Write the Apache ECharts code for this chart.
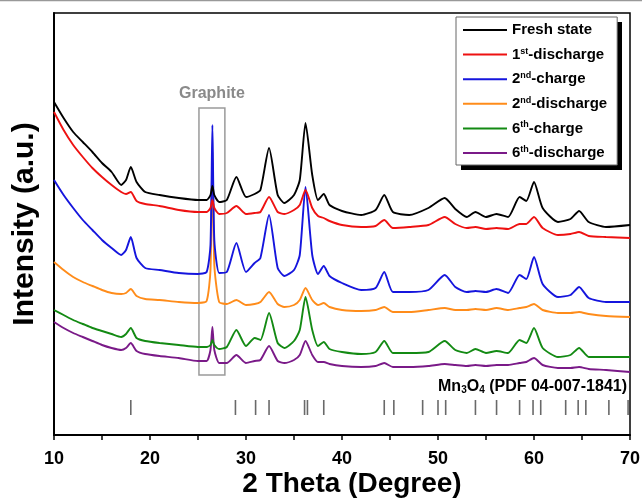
<!DOCTYPE html>
<html>
<head>
<meta charset="utf-8">
<script src="https://cdn.jsdelivr.net/npm/echarts@6/dist/echarts.min.js"></script>
<style>html,body{margin:0;padding:0;background:#fff;}#c{width:642px;height:498px;}</style>
</head>
<body>
<div id="c"></div>
<script>
// 2 Theta sample positions (degrees)
const theta = [10, 11, 12, 13, 14, 15, 16, 17, 17.5, 18, 18.6, 19.5, 21, 23, 25, 25.9, 26.3, 26.5, 26.7, 27.2,
  28, 29, 30, 30.9, 31.5, 32.4, 33.3, 34, 35, 35.6, 36.2, 36.9, 37.5, 38.1, 38.7, 40, 42, 43.5, 44.4, 45.3,
  47, 49, 50.7, 51.8, 53, 53.9, 55, 56.1, 57.3, 58.5, 59.2, 60, 60.9, 62.5, 63.8, 64.7, 65.7, 67.5, 70];

// Intensities (a.u., stacked offsets as in the figure)
const freshState = [333, 317, 303, 293, 283, 272, 263, 250, 255, 268, 253, 243, 240, 237, 235, 235, 240, 249, 240, 233,
  235, 258, 238, 241, 245, 287, 240, 232, 240, 255, 312, 260, 235, 241, 230, 224, 220, 225, 240, 223,
  220, 227, 237, 226, 218, 223, 218, 221, 218, 238, 234, 253, 227, 213, 216, 224, 213, 208, 210];
const discharge1 = [323, 305, 290, 278, 267, 258, 250, 243, 241, 243, 234, 231, 229, 225, 223, 223, 227, 235, 227, 221,
  222, 229, 221, 222, 223, 238, 223, 221, 225, 230, 245, 227, 219, 217, 214, 210, 208, 209, 215, 207,
  208, 210, 218, 211, 207, 208, 206, 207, 206, 211, 211, 218, 207, 200, 201, 203, 199, 198, 197];
const charge2 = [255, 240, 227, 215, 205, 195, 187, 180, 185, 198, 177, 167, 165, 162, 161, 163, 190, 310, 195, 162,
  163, 192, 163, 172, 177, 220, 167, 159, 165, 180, 248, 180, 161, 169, 159, 152, 145, 147, 163, 143,
  143, 145, 160, 148, 143, 144, 143, 146, 142, 160, 156, 178, 151, 138, 140, 148, 137, 133, 133];
const discharge2 = [173, 165, 158, 153, 149, 145, 142, 141, 142, 146, 139, 136, 135, 133, 132, 134, 165, 283, 170, 133,
  131, 135, 130, 131, 133, 143, 131, 128, 130, 135, 147, 135, 130, 132, 128, 125, 124, 125, 128, 123,
  123, 125, 127, 125, 125, 126, 125, 127, 125, 127, 128, 131, 125, 122, 122, 123, 121, 119, 118];
const charge6 = [125, 120, 115, 111, 107, 104, 101, 98, 101, 107, 97, 94, 92, 90, 88, 88, 90, 95, 90, 86,
  88, 105, 89, 97, 95, 122, 92, 87, 94, 105, 138, 105, 89, 93, 86, 83, 81, 83, 94, 82,
  82, 83, 94, 85, 82, 86, 82, 84, 82, 95, 92, 107, 87, 78, 80, 87, 78, 78, 78];
const discharge6 = [113, 107, 102, 98, 94, 90, 87, 85, 87, 92, 84, 81, 79, 77, 74, 74, 85, 108, 85, 72,
  72, 80, 72, 74, 75, 89, 74, 72, 75, 80, 94, 80, 73, 73, 71, 69, 68, 69, 72, 68,
  68, 69, 71, 70, 69, 70, 69, 70, 70, 72, 73, 77, 70, 67, 67, 68, 66, 65, 63];

// Mn3O4 reference lines (PDF 04-007-1841)
const refLines = [18.0, 28.9, 31.0, 32.4, 36.1, 36.4, 38.1, 44.4, 45.4, 48.4, 50.0, 50.8, 53.9, 56.1,
  58.5, 59.9, 60.7, 63.3, 64.6, 65.4, 67.8, 69.8];
const refLevel = 27.5;

const seriesNames = ['Fresh state', '1st-discharge', '2nd-charge', '2nd-discharge', '6th-charge', '6th-discharge'];
const seriesValues = [freshState, discharge1, charge2, discharge2, charge6, discharge6];
const seriesColors = ['#000000', '#ee1111', '#1515dd', '#ff8c1a', '#138a13', '#7a1a88'];

const legendRich = {
  'Fresh state': 'Fresh state',
  '1st-discharge': '1{s|st}-discharge',
  '2nd-charge': '2{s|nd}-charge',
  '2nd-discharge': '2{s|nd}-discharge',
  '6th-charge': '6{s|th}-charge',
  '6th-discharge': '6{s|th}-discharge'
};

const FONT = 'Liberation Sans, Arial, sans-serif';
const chart = echarts.init(document.getElementById('c'), null, {renderer: 'canvas'});

const series = seriesNames.map((n, k) => ({
  name: n,
  type: 'line',
  data: theta.map((x, i) => [x, seriesValues[k][i]]),
  symbol: 'none',
  smooth: 0.2,
  lineStyle: {color: seriesColors[k], width: 1.9},
  itemStyle: {color: seriesColors[k]},
  z: 10 - k,
  animation: false
}));

// graphite box
series[0].markArea = {
  silent: true,
  itemStyle: {color: 'rgba(0,0,0,0)', borderColor: '#9a9a9a', borderWidth: 1.5},
  label: {show: true, position: 'top', distance: 6, color: '#8a8a8a', fontWeight: 'bold', fontSize: 16, fontFamily: FONT},
  data: [[{name: 'Graphite', coord: [25.1, 327]}, {coord: [27.8, 60]}]]
};

series.push({
  name: 'Mn3O4',
  type: 'scatter',
  data: refLines.map(x => [x, refLevel]),
  symbol: 'rect',
  symbolSize: [1.6, 15],
  itemStyle: {color: '#444'},
  silent: true,
  animation: false
});

const option = {
  animation: false,
  backgroundColor: '#fff',
  grid: {left: 54, right: 12, top: 13, bottom: 63, show: true, borderColor: '#000', borderWidth: 1.5,
    backgroundColor: 'transparent', containLabel: false, outerBoundsMode: 'none'},
  legend: {
    data: seriesNames,
    left: 456, top: 17,
    orient: 'vertical',
    itemWidth: 44, itemHeight: 14, itemGap: 8.6,
    padding: [5, 10, 4, 7],
    backgroundColor: '#fff',
    borderColor: '#666', borderWidth: 1,
    icon: 'path://M0,0 L44,0 L44,2 L0,2 Z',
    formatter: n => legendRich[n],
    textStyle: {
      color: '#000', fontSize: 15, fontWeight: 'bold', fontFamily: FONT, lineHeight: 16,
      rich: {s: {fontSize: 9, fontWeight: 'bold', verticalAlign: 'top', lineHeight: 16, fontFamily: FONT}}
    },
    z: 20
  },
  xAxis: {
    type: 'value', min: 10, max: 70, interval: 10,
    axisLine: {lineStyle: {color: '#000', width: 2}},
    axisTick: {show: true, inside: false, length: 5, lineStyle: {color: '#000', width: 1.5}},
    minorTick: {show: true, splitNumber: 2, length: 5, lineStyle: {color: '#000', width: 1.5}},
    axisLabel: {fontSize: 18, fontWeight: 'bold', color: '#000', margin: 15, fontFamily: FONT},
    splitLine: {show: false}
  },
  yAxis: {
    type: 'value', min: 0, max: 422,
    name: 'Intensity (a.u.)', nameLocation: 'middle', nameGap: 14, nameRotate: 90,
    nameTextStyle: {fontSize: 30, fontWeight: 'bold', color: '#000', fontFamily: FONT},
    axisLine: {show: true, lineStyle: {color: '#000', width: 2}},
    axisTick: {show: false}, axisLabel: {show: false}, splitLine: {show: false}
  },
  graphic: [
    {type: 'line', shape: {x1: 0, y1: 0.5, x2: 642, y2: 0.5}, style: {stroke: '#999', lineWidth: 1.5}},
    {type: 'rect', z: 15, shape: {x: 461, y: 22, width: 161, height: 148}, style: {fill: '#000'}},
    {type: 'text', x: 352, y: 484, z: 30,
     style: {text: '2 Theta (Degree)', fill: '#000', align: 'center', verticalAlign: 'middle',
       font: 'bold 28px "Liberation Sans", Arial, sans-serif'}},
    {type: 'text', right: 15, top: 379, z: 30,
     style: {text: 'Mn{b|3}O{b|4} (PDF 04-007-1841)', fill: '#000', font: 'bold 16px "Liberation Sans", Arial, sans-serif',
       rich: {b: {fontSize: 10, fontWeight: 'bold', verticalAlign: 'bottom', padding: [6, 0, 0, 0], fontFamily: FONT}}}}
  ],
  series: series
};
chart.setOption(option);
</script>
</body>
</html>
